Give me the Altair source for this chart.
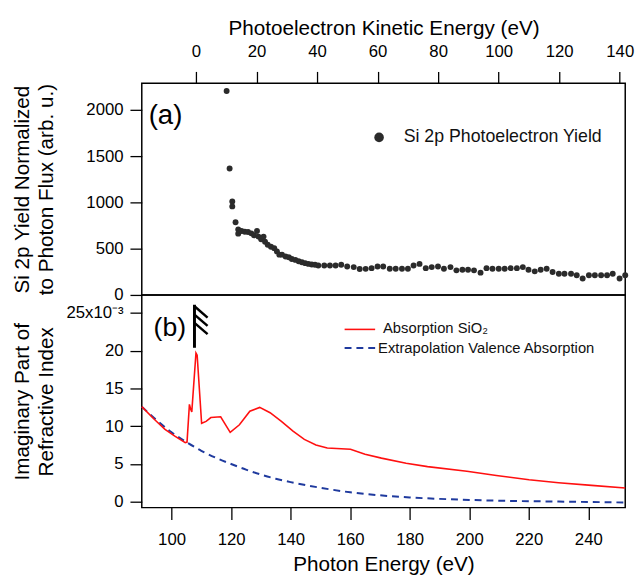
import altair as alt
import pandas as pd

# ---------------- data ----------------
# Panel (a): Si 2p photoelectron yield vs photon energy
yield_hv = [118.5, 119.5, 120.4, 120.4, 121.5, 122.4, 122.4, 123.5, 124.6, 125.7,
            126.8, 127.7, 128.7, 129.2, 130.1, 130.9, 131.4, 132.3, 133.4, 134.5,
            135.4, 136.2, 137.1, 138.3, 139.4, 140.4, 141.6, 142.7, 143.8, 144.9,
            146.0, 147.1, 148.2, 149.3, 151.3, 153.2, 155.1, 157.0, 159.0, 161.2,
            163.2, 165.2, 167.2, 169.2, 171.1, 173.3, 175.3, 177.4, 179.4, 181.3,
            183.3, 185.4, 187.4, 189.5, 191.5, 193.7, 195.7, 197.7, 199.6, 201.6,
            203.8, 205.8, 207.8, 209.9, 211.9, 213.9, 216.0, 218.0, 219.9, 222.0,
            224.0, 226.0, 228.0, 230.1, 232.0, 234.2, 236.1, 238.1, 240.2, 242.2,
            244.3, 246.3, 248.2, 250.5, 252.4]
yield_val = [2206, 1368, 1011, 958, 787, 709, 663, 692, 684, 680,
             666, 645, 692, 631, 602, 631, 575, 543, 521, 506,
             471, 436, 436, 415, 408, 389, 379, 365, 354, 344,
             336, 330, 327, 319, 319, 319, 319, 326, 308, 301,
             280, 282, 290, 308, 308, 283, 283, 283, 283, 319,
             336, 290, 301, 308, 283, 301, 266, 272, 272, 266,
             241, 290, 283, 283, 283, 290, 290, 301, 272, 255,
             272, 283, 248, 230, 230, 230, 213, 177, 213, 213,
             213, 213, 230, 177, 213]

# Panel (b): imaginary part of refractive index (x 1e-3)
abs_hv = [90.0, 94.0, 97.8, 101.1, 104.6, 105.2, 106.0, 106.4, 106.8, 108.2,
          108.6, 110.1, 111.6, 113.2, 116.5, 119.7, 122.8, 126.3, 129.6, 133.1,
          136.9, 140.8, 144.6, 148.5, 152.3, 160.1, 165.0, 170.5, 178.8, 186.0,
          199.2, 209.1, 220.1, 230.0, 241.1, 252.4]
abs_val = [12.6, 11.0, 9.6, 8.7, 7.83, 7.9, 12.9, 12.3, 11.9, 19.7,
           19.4, 10.4, 10.65, 11.15, 11.25, 9.2, 10.2, 12.0, 12.5, 11.8,
           10.65, 9.35, 8.26, 7.52, 7.13, 6.96, 6.3, 5.78, 5.09, 4.65,
           4.05, 3.48, 2.91, 2.52, 2.17, 1.83]

ext_hv = [90, 95, 100, 105, 110, 115, 120, 125, 130, 135, 140, 150, 160, 170,
          180, 190, 200, 215, 230, 252.4]
ext_val = [12.6, 10.8, 9.2, 7.9, 6.75, 5.8, 5.0, 4.25, 3.6, 3.05, 2.6, 1.85, 1.25,
           0.85, 0.57, 0.38, 0.24, 0.1, 0.02, -0.1]

# Si L-edge marker (photon energy, index units)
edge_hv = 107.7
edge_bar = [20.4, 26.1]
barb_end_hv = 112.1
barb_top = [25.9, 24.8, 23.7]
barb_bottom = [24.4, 23.3, 22.2]

ke_ticks = [0, 20, 40, 60, 80, 100, 120, 140]
hv_ticks = [100, 120, 140, 160, 180, 200, 220, 240]
yield_ticks = [0, 500, 1000, 1500, 2000]
k_ticks = [0, 5, 10, 15, 20, 25]

HV_DOMAIN = [90.0, 252.4]
KE_DOMAIN = [-17.9, 141.8]
YIELD_DOMAIN = [0, 2290]
K_DOMAIN = [-0.78, 27.4]

W, HA, HB = 491, 215, 216
FONT = "Liberation Sans"

df_yield = pd.DataFrame({"hv": yield_hv, "val": yield_val})
df_abs = pd.DataFrame({"hv": abs_hv, "val": abs_val})
df_ext = pd.DataFrame({"hv": ext_hv, "val": ext_val})
df_ke = pd.DataFrame({"ke": ke_ticks})

hv_scale = alt.Scale(domain=HV_DOMAIN, nice=False, zero=False)

# ---------------- panel (a) ----------------
pts = alt.Chart(df_yield).mark_circle(size=36, color="#2b2b2b", opacity=1).encode(
    x=alt.X("hv:Q", scale=hv_scale, axis=None),
    y=alt.Y("val:Q", scale=alt.Scale(domain=YIELD_DOMAIN, nice=False),
            axis=alt.Axis(values=yield_ticks, format="d",
                          title=["Si 2p Yield Normalized", "to Photon Flux (arb. u.)"],
                          titleX=-111, titleY=HA / 2, titleAngle=270, titleAlign="center",
                          titleBaseline="bottom", titleLineHeight=24)),
)

top_axis = alt.Chart(df_ke).mark_point(opacity=0).encode(
    x=alt.X("ke:Q", scale=alt.Scale(domain=KE_DOMAIN, nice=False, zero=False),
            axis=alt.Axis(orient="top", values=ke_ticks, format="d",
                          title="Photoelectron Kinetic Energy (eV)",
                          labelPadding=11, titlePadding=5)),
)

label_a = alt.Chart(pd.DataFrame({"t": ["(a)"]})).mark_text(
    align="left", baseline="middle", fontSize=28, font=FONT, color="black"
).encode(x=alt.value(7), y=alt.value(33), text="t:N")

leg_a_pt = alt.Chart(pd.DataFrame({"t": ["Si 2p Photoelectron Yield"]})).mark_circle(
    size=95, color="#2b2b2b", opacity=1
).encode(x=alt.value(241), y=alt.value(55))
leg_a_txt = alt.Chart(pd.DataFrame({"t": ["Si 2p Photoelectron Yield"]})).mark_text(
    align="left", baseline="middle", fontSize=18, font=FONT, color="#111"
).encode(x=alt.value(266), y=alt.value(55), text="t:N")

panel_a = alt.layer(pts, top_axis, label_a, leg_a_pt, leg_a_txt).resolve_scale(
    x="independent"
).properties(width=W, height=HA)

# ---------------- panel (b) ----------------
xb = alt.X("hv:Q", scale=hv_scale,
           axis=alt.Axis(values=hv_ticks, format="d", title="Photon Energy (eV)",
                         labelPadding=12, titlePadding=7))
yb_axis = alt.Axis(values=k_ticks, title=["Imaginary Part of", "Refractive Index"],
                   titleX=-111, titleY=HB / 2, titleAngle=270, titleAlign="center",
                   titleBaseline="bottom", titleLineHeight=24,
                   labelExpr="datum.value == 25 ? '25x10⁻³' : datum.label")
yb = alt.Y("val:Q", scale=alt.Scale(domain=K_DOMAIN, nice=False, zero=False), axis=yb_axis)

ext_line = alt.Chart(df_ext).mark_line(
    color="#1f3a9e", strokeWidth=2, strokeDash=[7, 5], interpolate="monotone"
).encode(x=xb, y=yb)
abs_line = alt.Chart(df_abs).mark_line(color="#ff1010", strokeWidth=1.6).encode(x=xb, y=yb)

bar_df = pd.DataFrame({"x": [edge_hv], "y1": [edge_bar[0]], "y2": [edge_bar[1]]})
edge_bar_mark = alt.Chart(bar_df).mark_rule(color="black", strokeWidth=3).encode(
    x=alt.X("x:Q", scale=hv_scale), y=alt.Y("y1:Q", scale=alt.Scale(domain=K_DOMAIN)), y2="y2:Q"
)
barb_df = pd.DataFrame({"x1": [edge_hv] * 3, "x2": [barb_end_hv] * 3,
                        "y1": barb_top, "y2": barb_bottom})
barbs = alt.Chart(barb_df).mark_rule(color="black", strokeWidth=2.5).encode(
    x=alt.X("x1:Q", scale=hv_scale), x2="x2:Q",
    y=alt.Y("y1:Q", scale=alt.Scale(domain=K_DOMAIN)), y2="y2:Q"
)

label_b = alt.Chart(pd.DataFrame({"t": ["(b)"]})).mark_text(
    align="left", baseline="middle", fontSize=27, font=FONT, color="black"
).encode(x=alt.value(12), y=alt.value(34), text="t:N")

leg_red = alt.Chart(pd.DataFrame({"t": ["Absorption SiO₂"]})).mark_rule(
    color="#ff1010", strokeWidth=1.6
).encode(x=alt.value(206), x2=alt.value(237), y=alt.value(35))
leg_red_txt = alt.Chart(pd.DataFrame({"t": ["Absorption SiO₂"]})).mark_text(
    align="left", baseline="middle", fontSize=15, font=FONT, color="#111"
).encode(x=alt.value(245), y=alt.value(34), text="t:N")
leg_blue = alt.Chart(pd.DataFrame({"t": ["Extrapolation Valence Absorption"]})).mark_rule(
    color="#1f3a9e", strokeWidth=2, strokeDash=[7, 5]
).encode(x=alt.value(206), x2=alt.value(237), y=alt.value(54))
leg_blue_txt = alt.Chart(pd.DataFrame({"t": ["Extrapolation Valence Absorption"]})).mark_text(
    align="left", baseline="middle", fontSize=15, font=FONT, color="#111"
).encode(x=alt.value(240), y=alt.value(54), text="t:N")

panel_b = alt.layer(
    ext_line, abs_line, edge_bar_mark, barbs, label_b,
    leg_red, leg_red_txt, leg_blue, leg_blue_txt
).properties(width=W, height=HB)

chart = alt.vconcat(panel_a, panel_b, spacing=0, bounds="flush").properties(
    padding={"left": 11, "top": 12, "right": 5, "bottom": 2}
).configure(font=FONT).configure_view(
    stroke="black", strokeWidth=1.5
).configure_axis(
    domain=False, grid=False, ticks=True, tickColor="black", tickWidth=1.3, tickSize=12,
    labelFont=FONT, labelFontSize=17, labelColor="black", labelPadding=7,
    titleFont=FONT, titleFontSize=21, titleFontWeight="normal", titleColor="black"
)

chart.save("out.html", embed_options={"renderer": "svg", "actions": False})
